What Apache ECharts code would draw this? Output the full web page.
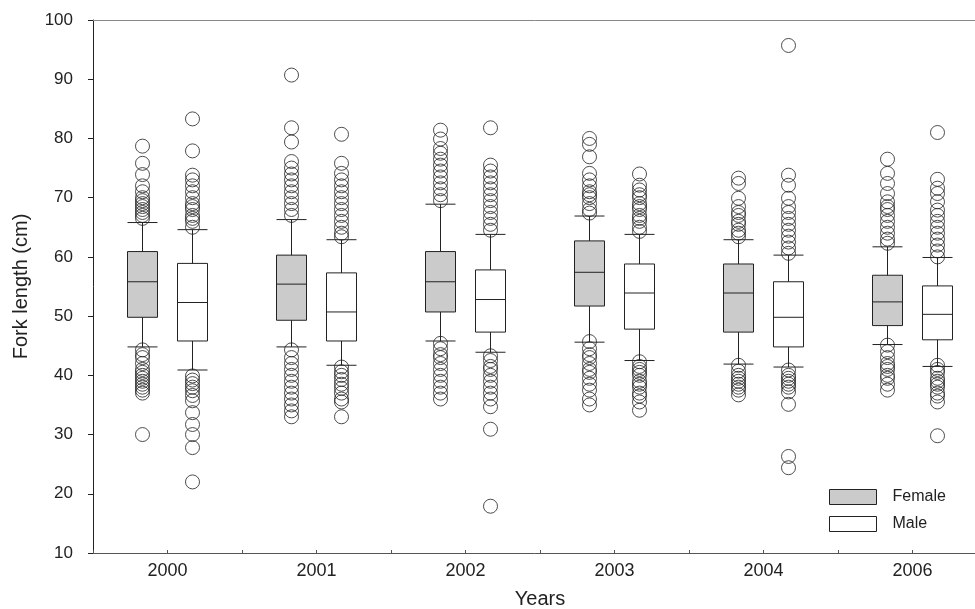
<!DOCTYPE html>
<html>
<head>
<meta charset="utf-8">
<script src="https://cdn.jsdelivr.net/npm/echarts@6/dist/echarts.min.js"></script>
<style>html,body{margin:0;padding:0;background:#fff;overflow:hidden;width:975px;height:609px}#c{width:975px;height:609px}</style>
</head>
<body>
<div id="c"></div>
<script>
var years = ['2000', '2001', '2002', '2003', '2004', '2006'];
// box stats: [lower whisker, Q1, median, Q3, upper whisker]
var femaleBoxes = [
  [44.8, 49.8, 55.8, 60.9, 65.8],
  [44.8, 49.3, 55.4, 60.3, 66.3],
  [45.8, 50.7, 55.8, 60.9, 68.9],
  [45.6, 51.7, 57.4, 62.7, 66.9],
  [41.9, 47.3, 53.9, 58.8, 62.9],
  [45.2, 48.4, 52.4, 56.9, 61.7]
];
var maleBoxes = [
  [40.9, 45.8, 52.3, 58.9, 64.6],
  [41.7, 45.8, 50.7, 57.3, 62.9],
  [43.9, 47.3, 52.8, 57.8, 63.8],
  [42.5, 47.8, 53.9, 58.8, 63.8],
  [41.4, 44.8, 49.8, 55.8, 60.3],
  [41.5, 46.0, 50.3, 55.1, 59.9]
];
var femaleOut2000 = [78.7, 75.8, 73.9, 72, 71, 70, 69.5, 69, 68.5, 68, 67.5, 67, 66.5, 44.3, 43.5, 43, 42, 41, 40.5, 40, 39.5, 39, 38.5, 38, 37.5, 37, 30];
var femaleOut2001 = [90.7, 81.8, 79.4, 76.1, 75, 74, 73, 72, 71, 70, 69, 68, 67, 44.3, 43, 42, 41, 40, 39, 38, 37, 36, 35, 34, 33];
var femaleOut2002 = [81.4, 79.9, 78.3, 77.5, 76.5, 75.5, 74.5, 73.5, 72.5, 71.5, 70.5, 69.5, 45.4, 44.5, 43.5, 43, 42, 41, 40, 39, 38, 37, 36];
var femaleOut2003 = [80.0, 79.0, 76.9, 74.1, 73, 72, 71, 70.5, 70, 69, 68, 67.4, 45.7, 44.5, 43.5, 43, 42, 41, 40.5, 39.5, 38.5, 37.5, 36, 35];
var femaleOut2004 = [73.3, 72.4, 69.9, 68.5, 67.5, 67, 66, 65.5, 64.5, 64, 63.4, 41.7, 40.7, 40, 39.5, 39, 38.5, 38, 37.5, 36.7];
var femaleOut2006 = [76.5, 74.1, 72.4, 70.7, 69.3, 68.5, 68, 67, 66, 65, 64, 63, 62.3, 45.1, 44, 43, 42, 41.5, 41, 40, 39.5, 38.5, 37.5];
var maleOut2000 = [83.3, 77.9, 73.8, 73, 72, 71, 70, 69, 68.5, 68, 67, 66.5, 66, 65, 39.9, 39.2, 38.6, 38, 37.4, 36.6, 35.7, 33.7, 31.7, 30, 27.8, 22.0];
var maleOut2001 = [80.7, 75.8, 74.1, 73, 72, 71, 70, 69, 68, 67, 66, 65, 64, 63.4, 41.4, 40.6, 40, 39.3, 38.5, 37.8, 37, 36, 35.5, 33];
var maleOut2002 = [81.8, 75.5, 74.5, 73.5, 72.5, 71.5, 70.5, 69.5, 68.5, 67.5, 66.5, 65.5, 64.5, 43.3, 42.5, 41.5, 41, 40, 39, 38, 37, 36, 34.7, 30.9, 17.9];
var maleOut2003 = [74.0, 72.1, 71.3, 70.5, 70, 69, 68.5, 68, 67, 66.5, 66, 65, 64.3, 42.3, 41.5, 41, 40.5, 40, 39, 38.5, 38, 37, 36.5, 35.5, 34.1];
var maleOut2004 = [95.7, 73.8, 72.1, 69.9, 68.5, 67.5, 66.5, 65.5, 64.5, 63.5, 62.5, 61.5, 60.6, 40.9, 40, 39.5, 39, 38.5, 38, 37.2, 35.1, 26.3, 24.4];
var maleOut2006 = [81.0, 73.1, 71.6, 70.7, 69.3, 67.9, 67, 66, 65, 64, 63, 62, 61, 60, 41.7, 41, 40.5, 39.5, 39, 38.5, 38, 37, 36.5, 35.5, 29.8];
var yTicks = {min: 10, max: 100, interval: 10};

var femaleOutliers = [femaleOut2000, femaleOut2001, femaleOut2002, femaleOut2003, femaleOut2004, femaleOut2006];
var maleOutliers = [maleOut2000, maleOut2001, maleOut2002, maleOut2003, maleOut2004, maleOut2006];
function toPoints(groups) {
  var pts = [];
  groups.forEach(function (g, i) { g.forEach(function (v) { pts.push([i, v]); }); });
  return pts;
}
var halfCats = [];
years.forEach(function () { halfCats.push('', ''); });

var font = 'Liberation Sans, Arial, sans-serif';
var ink = '#222';
var gridBase = {top: 20, width: 894, height: 533, outerBoundsMode: 'none', containLabel: false};

var chart = echarts.init(document.getElementById('c'), null, {renderer: 'canvas'});
chart.setOption({
  animation: false,
  backgroundColor: '#fff',
  textStyle: {fontFamily: font},
  grid: [
    Object.assign({left: 93}, gridBase),
    Object.assign({left: 68}, gridBase),
    Object.assign({left: 118}, gridBase)
  ],
  legend: {
    orient: 'vertical', left: 829, top: 489, padding: 0,
    itemWidth: 47, itemHeight: 15, itemGap: 11,
    icon: 'rect',
    data: [
      {name: 'Female', itemStyle: {color: '#cbcbcb', borderColor: ink, borderWidth: 1}},
      {name: 'Male', itemStyle: {color: '#ffffff', borderColor: ink, borderWidth: 1}}
    ],
    textStyle: {fontSize: 16, color: ink, fontFamily: font, padding: [0, 0, 0, 11]}
  },
  xAxis: [
    {
      gridIndex: 0, type: 'category', data: years, position: 'bottom',
      axisLine: {lineStyle: {color: '#555', width: 1}},
      axisTick: {show: false},
      axisLabel: {fontSize: 18, color: ink, margin: 9, fontFamily: font},
      name: 'Years', nameLocation: 'middle', nameGap: 36,
      nameTextStyle: {fontSize: 20, color: ink, fontFamily: font}
    },
    {
      gridIndex: 0, type: 'category', data: halfCats, position: 'bottom',
      axisLine: {show: false},
      axisTick: {show: true, inside: true, length: 3, lineStyle: {color: '#555'}},
      axisLabel: {show: false}
    },
    {
      gridIndex: 0, type: 'category', data: years, position: 'top',
      axisLine: {show: true, lineStyle: {color: '#888', width: 1}},
      axisTick: {show: false}, axisLabel: {show: false}
    },
    {gridIndex: 1, type: 'category', data: years, show: false},
    {gridIndex: 2, type: 'category', data: years, show: false}
  ],
  yAxis: [
    {
      gridIndex: 0, type: 'value', min: yTicks.min, max: yTicks.max, interval: yTicks.interval,
      axisLine: {show: true, lineStyle: {color: ink, width: 1}},
      axisTick: {show: true, length: 5, lineStyle: {color: ink}},
      splitLine: {show: false},
      axisLabel: {fontSize: 17, color: ink, margin: 20, fontFamily: font},
      name: 'Fork length (cm)', nameLocation: 'middle', nameGap: 62, nameRotate: 90,
      nameTextStyle: {fontSize: 20, color: ink, fontFamily: font}
    },
    {gridIndex: 1, type: 'value', min: yTicks.min, max: yTicks.max, show: false},
    {gridIndex: 2, type: 'value', min: yTicks.min, max: yTicks.max, show: false}
  ],
  series: [
    {
      name: 'Female outliers', type: 'scatter', xAxisIndex: 3, yAxisIndex: 1,
      data: toPoints(femaleOutliers), symbol: 'circle', symbolSize: 14, z: 2,
      itemStyle: {color: 'rgba(255,255,255,0)', borderColor: ink, borderWidth: 1}
    },
    {
      name: 'Male outliers', type: 'scatter', xAxisIndex: 4, yAxisIndex: 2,
      data: toPoints(maleOutliers), symbol: 'circle', symbolSize: 14, z: 2,
      itemStyle: {color: 'rgba(255,255,255,0)', borderColor: ink, borderWidth: 1}
    },
    {
      name: 'Female', type: 'boxplot', xAxisIndex: 3, yAxisIndex: 1,
      data: femaleBoxes, boxWidth: [30, 30], z: 3,
      itemStyle: {color: '#cbcbcb', borderColor: ink, borderWidth: 1}
    },
    {
      name: 'Male', type: 'boxplot', xAxisIndex: 4, yAxisIndex: 2,
      data: maleBoxes, boxWidth: [30, 30], z: 3,
      itemStyle: {color: '#ffffff', borderColor: ink, borderWidth: 1}
    }
  ]
});
</script>
</body>
</html>
